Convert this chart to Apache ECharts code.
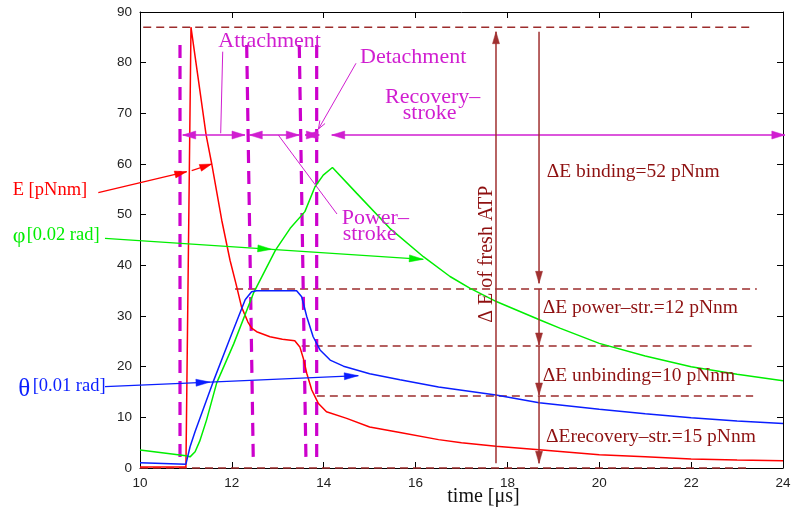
<!DOCTYPE html>
<html><head><meta charset="utf-8">
<script src="https://cdn.jsdelivr.net/npm/echarts@6/dist/echarts.min.js"></script>
<style>html,body{margin:0;padding:0;background:#fff}#c{width:792px;height:512px}</style>
</head><body><div id="c"></div>
<script>
// ---- curve data (time in µs) ----
const timeE   = [10, 11.0, 11.04, 11.11, 11.25, 11.44, 11.56, 11.78, 11.96, 12.1, 12.21, 12.35, 12.43, 12.54, 12.83, 13.1, 13.37, 13.48, 13.56, 13.63, 13.74, 13.88, 14.06, 14.5, 15.0, 15.66, 16.5, 17.0, 17.75, 18.69, 20, 21, 22, 23, 24];
const energyE = [0.2, 0.2, 0.2, 87, 78, 65.7, 60.1, 48.9, 41.0, 36.0, 31.8, 28.8, 27.6, 26.9, 25.9, 25.4, 25.1, 23.9, 21.5, 18.7, 15.4, 12.8, 11.1, 9.8, 8.1, 7.0, 5.6, 5.0, 4.3, 3.6, 2.6, 2.2, 1.8, 1.6, 1.45];

const timePhi = [10, 11.0, 11.09, 11.2, 11.3, 11.45, 11.67, 12.04, 12.47, 12.95, 13.27, 13.59, 13.63, 13.81, 13.99, 14.19, 14.72, 15.44, 16.17, 16.75, 17.18, 17.77, 18.71, 19.14, 20.0, 21, 22, 23, 24];
const phi     = [3.55, 2.4, 2.2, 3.2, 5.3, 9.5, 16.8, 24.5, 34.5, 43, 47.3, 50.6, 50.9, 55.5, 57.8, 59.3, 54.2, 47.3, 41.7, 37.8, 35.5, 32.8, 29.2, 27.6, 24.6, 22.1, 20.0, 18.5, 17.2];

const timeTheta = [10, 11.0, 11.09, 11.2, 11.58, 11.96, 12.29, 12.43, 12.54, 13.41, 13.52, 13.63, 13.77, 13.92, 14.14, 14.43, 15.0, 15.66, 16.5, 17.75, 18.69, 20, 21, 22, 23, 24];
const theta     = [1.05, 0.75, 4.2, 7.2, 16.7, 25.6, 33.2, 34.8, 35.0, 35.0, 33.8, 29.9, 25.9, 23.3, 21.3, 20.1, 18.6, 17.4, 16.0, 14.4, 12.9, 11.6, 10.7, 9.9, 9.3, 8.8];

// ---- ticks ----
const xTicks = {min: 10, max: 24, step: 2};
const yTicks = {min: 0, max: 90, step: 10};

// ---- annotation geometry in data coordinates: [x1, y1, x2, y2, headAtStart, headAtEnd] ----
const energyLevels = [
  [10.07, 87.0, 23.35, 87.0, 0, 0],
  [12.07, 35.33, 23.43, 35.33, 0, 0],
  [13.52, 24.08, 23.35, 24.08, 0, 0],
  [13.85, 14.2, 23.35, 14.2, 0, 0],
  [10.0, 0.0, 23.3, 0.0, 0, 0]
];
const phaseBounds = [
  [10.871, 83.5, 10.871, 1.3, 0, 0],
  [12.323, 83.5, 12.467, 1.3, 0, 0],
  [13.468, 83.5, 13.614, 1.3, 0, 0],
  [13.847, 83.5, 13.847, 1.3, 0, 0]
];
const phaseArrows = [
  [10.930, 65.72, 12.286, 65.72, 1, 1],
  [12.380, 65.72, 13.468, 65.72, 1, 1],
  [13.593, 65.72, 13.904, 65.72, 1, 1],
  [14.174, 65.72, 24.04, 65.72, 1, 1]
];
const pointerLines = [
  [11.801, 82.17, 11.757, 66.06, 0, 0],
  [13.011, 65.72, 14.289, 50.13, 0, 0]
];
const detachPointer = [[14.703, 79.88, 13.886, 66.91, 0, 1]];
const energyArrows = [
  [17.751, 0.92, 17.751, 86.11, 0, 1],
  [18.688, 86.11, 18.688, 36.45, 0, 1],
  [18.688, 35.33, 18.688, 24.28, 0, 1],
  [18.688, 24.08, 18.688, 14.41, 0, 1],
  [18.688, 14.2, 18.688, 0.92, 0, 1]
];
const labelArrowE = [[9.092, 54.34, 11.017, 58.48, 0, 1], [11.126, 58.68, 11.561, 60.0, 0, 1]];
const labelArrowPhi = [[9.238, 45.34, 12.868, 43.16, 0, 1], [12.868, 43.16, 16.168, 41.19, 0, 1]];
const labelArrowTheta = [[9.238, 16.05, 11.524, 16.95, 0, 1], [11.524, 16.95, 14.753, 18.22, 0, 1]];

// ---- texts: [x, y, text] ----
const phaseTexts = [
  [11.705, 84.22, 'Attachment'],
  [14.790, 81.12, 'Detachment'],
  [15.334, 73.22, 'Recovery–'],
  [15.720, 69.93, 'stroke'],
  [14.392, 49.34, 'Power–'],
  [14.413, 46.05, 'stroke']
];
const energyTexts = [
  [18.855, 58.42, 'ΔE binding=52 pNnm'],
  [18.768, 31.64, 'ΔE power–str.=12 pNnm'],
  [18.768, 18.28, 'ΔE unbinding=10 pNnm'],
  [18.840, 6.24, 'ΔErecovery–str.=15 pNnm']
];
const atpText = [[17.555, 42.20, 'Δ E of fresh ATP']];
const eLabel = [[7.228, 54.75, 'E [pNnm]']];
const phiSymbol = [[7.228, 45.83, 'φ']];
const phiLabel = [[7.533, 46.03, '[0.02 rad]']];
const thetaSymbol = [[7.350, 15.55, 'θ']];
const thetaLabel = [[7.664, 16.07, '[0.01 rad]']];

const SERIF = '"Liberation Serif", "DejaVu Serif", serif';

function zip(xs, ys) { return xs.map((x, i) => [x, ys[i]]); }

function arrowHead(from, to, st) {
  const dx = to[0] - from[0], dy = to[1] - from[1];
  const L = Math.hypot(dx, dy) || 1;
  const ux = dx / L, uy = dy / L;
  const len = st.headLen, hw = st.headW / 2;
  const bx = to[0] - ux * len, by = to[1] - uy * len;
  const a = [bx - uy * hw, by + ux * hw], b = [bx + uy * hw, by - ux * hw];
  if (st.open) {
    return {type: 'polyline', shape: {points: [a, [to[0], to[1]], b]},
      style: {stroke: st.color, lineWidth: st.width, fill: null}};
  }
  return {type: 'polygon', shape: {points: [[to[0], to[1]], a, b]},
    style: {fill: st.color, stroke: st.color, lineWidth: 0.5}};
}

function segmentSeries(segs, st) {
  return {
    type: 'custom', coordinateSystem: 'cartesian2d', clip: false, silent: true,
    z: st.z || 3, data: segs, animation: false,
    renderItem: function (params, api) {
      const p1 = api.coord([api.value(0), api.value(1)]);
      const p2 = api.coord([api.value(2), api.value(3)]);
      const children = [{
        type: 'line', shape: {x1: p1[0], y1: p1[1], x2: p2[0], y2: p2[1]},
        style: {stroke: st.color, lineWidth: st.width, lineDash: st.dash || null, lineCap: 'butt', fill: null}
      }];
      if (api.value(5)) children.push(arrowHead(p1, p2, st));
      if (api.value(4)) children.push(arrowHead(p2, p1, st));
      return {type: 'group', children: children};
    }
  };
}

function textSeries(items, st) {
  return {
    type: 'custom', coordinateSystem: 'cartesian2d', clip: false, silent: true,
    z: 6, data: items.map(t => [t[0], t[1]]), animation: false,
    renderItem: function (params, api) {
      const p = api.coord([api.value(0), api.value(1)]);
      return {
        type: 'text', x: p[0], y: p[1], rotation: st.rotation || 0,
        style: {
          text: items[params.dataIndex][2], fill: st.color,
          font: st.size + 'px ' + (st.family || SERIF),
          align: st.align || 'left', verticalAlign: 'middle'
        }
      };
    }
  };
}

const MAGENTA = '#d01ed0';
const BROWN = '#9c2c2c';
const BROWN_TEXT = '#8e1010';

const chart = echarts.init(document.getElementById('c'), null, {renderer: 'canvas'});
const axisCommon = {
  axisLine: {show: true, onZero: false, lineStyle: {color: '#000', width: 1}},
  axisTick: {show: true, inside: true, length: 6, lineStyle: {color: '#000', width: 1}},
  splitLine: {show: false}
};
chart.setOption({
  animation: false,
  backgroundColor: '#fff',
  grid: {left: 140, right: 9, top: 12, bottom: 44, containLabel: false, outerBoundsMode: 'none'},
  xAxis: [
    Object.assign({type: 'value', position: 'bottom', min: xTicks.min, max: xTicks.max, interval: xTicks.step,
      name: 'time [μs]', nameLocation: 'middle', nameGap: 29, nameMoveOverlap: false,
      nameTextStyle: {fontFamily: SERIF, fontSize: 20, lineHeight: 20, color: '#111', padding: [0, 0, 0, 44], verticalAlign: 'middle'},
      axisLabel: {fontFamily: '"Liberation Sans", Arial, sans-serif', fontSize: 13.5, color: '#222', margin: 8}}, axisCommon),
    Object.assign({type: 'value', position: 'top', min: xTicks.min, max: xTicks.max, interval: xTicks.step,
      axisLabel: {show: false}}, axisCommon)
  ],
  yAxis: [
    Object.assign({type: 'value', position: 'left', min: yTicks.min, max: yTicks.max, interval: yTicks.step,
      axisLabel: {fontFamily: '"Liberation Sans", Arial, sans-serif', fontSize: 13.5, color: '#222', margin: 8}}, axisCommon),
    Object.assign({type: 'value', position: 'right', min: yTicks.min, max: yTicks.max, interval: yTicks.step,
      axisLabel: {show: false}}, axisCommon)
  ],
  series: [
    segmentSeries(energyLevels, {color: BROWN, width: 1.5, dash: [8, 5], z: 2}),
    segmentSeries(phaseBounds, {color: '#cc00cc', width: 3.2, dash: [13, 8], z: 2}),
    {type: 'line', name: 'E', data: zip(timeE, energyE), showSymbol: false, z: 4,
      lineStyle: {color: '#ff0000', width: 1.5}, itemStyle: {color: '#ff0000'}},
    {type: 'line', name: 'phi', data: zip(timePhi, phi), showSymbol: false, z: 4,
      lineStyle: {color: '#00ee00', width: 1.5}, itemStyle: {color: '#00ee00'}},
    {type: 'line', name: 'theta', data: zip(timeTheta, theta), showSymbol: false, z: 4,
      lineStyle: {color: '#0a1eff', width: 1.5}, itemStyle: {color: '#0a1eff'}},
    segmentSeries(phaseArrows, {color: MAGENTA, width: 1.5, headLen: 13, headW: 8, z: 5}),
    segmentSeries(pointerLines, {color: MAGENTA, width: 1, z: 5}),
    segmentSeries(detachPointer, {color: MAGENTA, width: 1, headLen: 8, headW: 6, open: true, z: 5}),
    segmentSeries(energyArrows, {color: '#a03030', width: 1.5, headLen: 12, headW: 7, z: 5}),
    segmentSeries(labelArrowE, {color: '#ff0000', width: 1.2, headLen: 12, headW: 7, z: 5}),
    segmentSeries(labelArrowPhi, {color: '#00ee00', width: 1.2, headLen: 14, headW: 7, z: 5}),
    segmentSeries(labelArrowTheta, {color: '#0a1eff', width: 1.2, headLen: 14, headW: 7, z: 5}),
    textSeries(phaseTexts, {color: MAGENTA, size: 22}),
    textSeries(energyTexts, {color: BROWN_TEXT, size: 19.5}),
    textSeries(atpText, {color: BROWN_TEXT, size: 20, align: 'center', rotation: Math.PI / 2}),
    textSeries(eLabel, {color: '#ff0000', size: 18.5}),
    textSeries(phiSymbol, {color: '#00ee00', size: 22}),
    textSeries(phiLabel, {color: '#00ee00', size: 18.5}),
    textSeries(thetaSymbol, {color: '#0a1eff', size: 25}),
    textSeries(thetaLabel, {color: '#0a1eff', size: 18.5})
  ]
});
</script></body></html>
